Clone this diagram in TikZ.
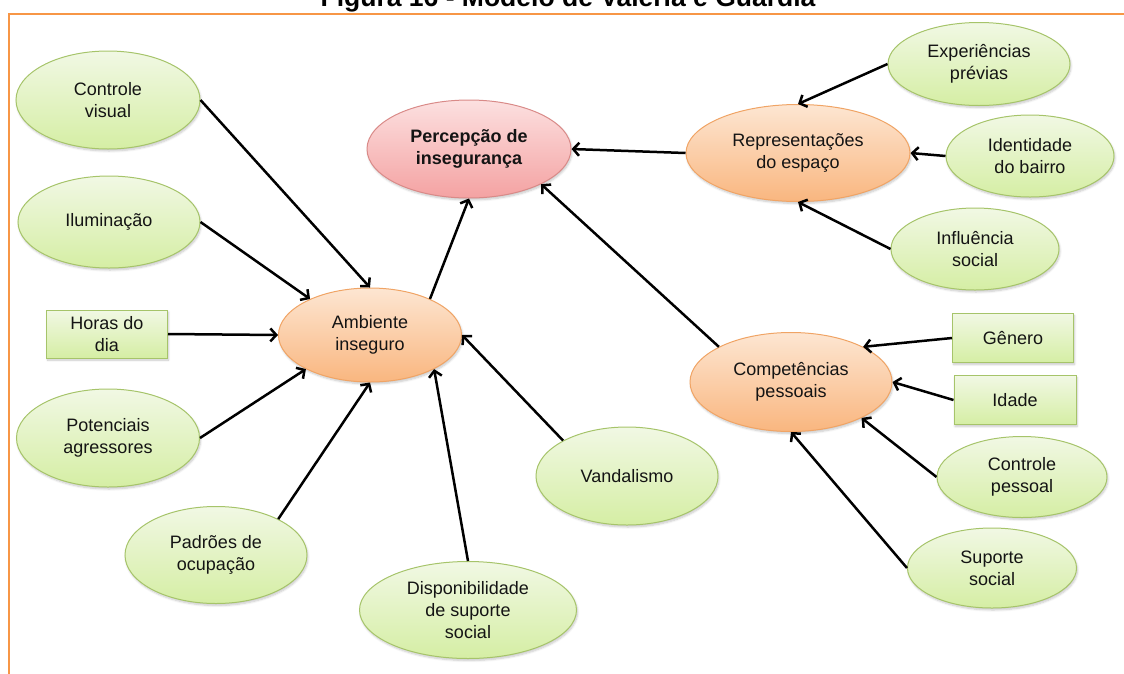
\documentclass[tikz,border=0pt]{standalone}
\usepackage{fontspec}
\setmainfont{Liberation Sans}
\usetikzlibrary{shapes.geometric,arrows.meta,shadows.blur}

\definecolor{frameorange}{HTML}{F79646}
\definecolor{greenedge}{HTML}{A6C46A}
\definecolor{greentop}{HTML}{F1F8E4}
\definecolor{greenbot}{HTML}{D5EEA4}
\definecolor{orangeedge}{HTML}{F0A465}
\definecolor{orangetop}{HTML}{FDE6D2}
\definecolor{orangebot}{HTML}{F9B67F}
\definecolor{rededge}{HTML}{D98A88}
\definecolor{redtop}{HTML}{FCE0E0}
\definecolor{redbot}{HTML}{F4A2A2}
\definecolor{labeltext}{HTML}{141414}

\tikzset{
  softshadow/.style={blur shadow={shadow blur steps=6, shadow xshift=1pt, shadow yshift=-2pt, shadow opacity=22}},
  basebox/.style={align=center, inner sep=0pt, text=labeltext, line width=1pt,
    font=\fontsize{18}{22}\selectfont, softshadow},
  greenell/.style={basebox, ellipse, draw=greenedge, top color=greentop, bottom color=greenbot},
  greenrect/.style={basebox, rectangle, draw=greenedge, top color=greentop, bottom color=greenbot},
  orangeell/.style={basebox, ellipse, draw=orangeedge, top color=orangetop, bottom color=orangebot},
  redell/.style={basebox, ellipse, draw=rededge, top color=redtop, bottom color=redbot,
    font=\bfseries\fontsize{18}{22}\selectfont},
  link/.style={draw=black, line width=2.5pt, -{Straight Barb[length=6pt,width=13pt]}},
}

\begin{document}
\begin{tikzpicture}[x=1pt,y=-1pt]
\useasboundingbox (0,0) rectangle (1124,673);

% caption above the frame
\node[anchor=base, inner sep=0pt, font=\bfseries\fontsize{26.5}{30}\selectfont] (title) at (568,6)
  {Figura 16 - Modelo de Valéria e Guardia};

% frame
\draw[frameorange, line width=2.5pt] (9,690) -- (9,13.8) -- (1140,13.8);

% central concept
\node[redell, minimum width=204pt, minimum height=98pt] (perc) at (469,149) {Percepção de\\insegurança};

% intermediate constructs
\node[orangeell, minimum width=224pt, minimum height=97pt] (rep) at (798,153) {Representações\\do espaço};
\node[orangeell, minimum width=202pt, minimum height=99pt] (comp) at (791,382) {Competências\\pessoais};
\node[orangeell, minimum width=183pt, minimum height=94pt] (amb) at (370,335) {Ambiente\\inseguro};

% factors of the spatial representations
\node[greenell, minimum width=182pt, minimum height=83pt] (exp) at (979,64) {Experiências\\prévias};
\node[greenell, minimum width=168pt, minimum height=82pt] (iden) at (1030,156) {Identidade\\do bairro};
\node[greenell, minimum width=168pt, minimum height=82pt] (infl) at (975,249) {Influência\\social};

% factors of the personal competences
\node[greenrect, minimum width=121pt, minimum height=49pt] (gen) at (1013,338) {Gênero};
\node[greenrect, minimum width=122pt, minimum height=49pt] (idade) at (1015,400) {Idade};
\node[greenell, minimum width=170pt, minimum height=81pt] (cp) at (1022,477) {Controle\\pessoal};
\node[greenell, minimum width=169pt, minimum height=80pt] (ss) at (992,568) {Suporte\\social};

% factors of the unsafe environment
\node[greenell, minimum width=184pt, minimum height=98pt] (cv) at (108,100) {Controle\\visual};
\node[greenell, minimum width=182pt, minimum height=92pt] (ilu) at (109,222) {Iluminação};
\node[greenrect, minimum width=121pt, minimum height=48pt] (hd) at (107,334) {Horas do\\dia};
\node[greenell, minimum width=183pt, minimum height=98pt] (pot) at (108,438) {Potenciais\\agressores};
\node[greenell, minimum width=182pt, minimum height=97pt] (pad) at (216,555) {Padrões de\\ocupação};
\node[greenell, minimum width=217pt, minimum height=97pt] (disp) at (468,610) {Disponibilidade\\de suporte\\social};
\node[greenell, minimum width=182pt, minimum height=98pt] (vand) at (627,476) {Vandalismo};

% influences
\draw[link] (cv.east) -- (amb.north);
\draw[link] (ilu.east) -- (amb.149);
\draw[link] (hd.east) -- (amb.west);
\draw[link] (pot.east) -- (amb.208);
\draw[link] (pad.30) -- (amb.south);
\draw[link] (disp.north) -- (amb.332);
\draw[link] (vand.151) -- (amb.east);
\draw[link] (amb.31) -- (perc.south);
\draw[link] (rep.west) -- (perc.east);
\draw[link] (comp.154) -- (perc.334);
\draw[link] (exp.west) -- (rep.north);
\draw[link] (iden.west) -- (rep.east);
\draw[link] (infl.west) -- (rep.south);
\draw[link] (gen.west) -- (comp.26);
\draw[link] (idade.west) -- (comp.east);
\draw[link] (cp.west) -- (comp.333);
\draw[link] (ss.west) -- (comp.south);
\end{tikzpicture}
\end{document}
